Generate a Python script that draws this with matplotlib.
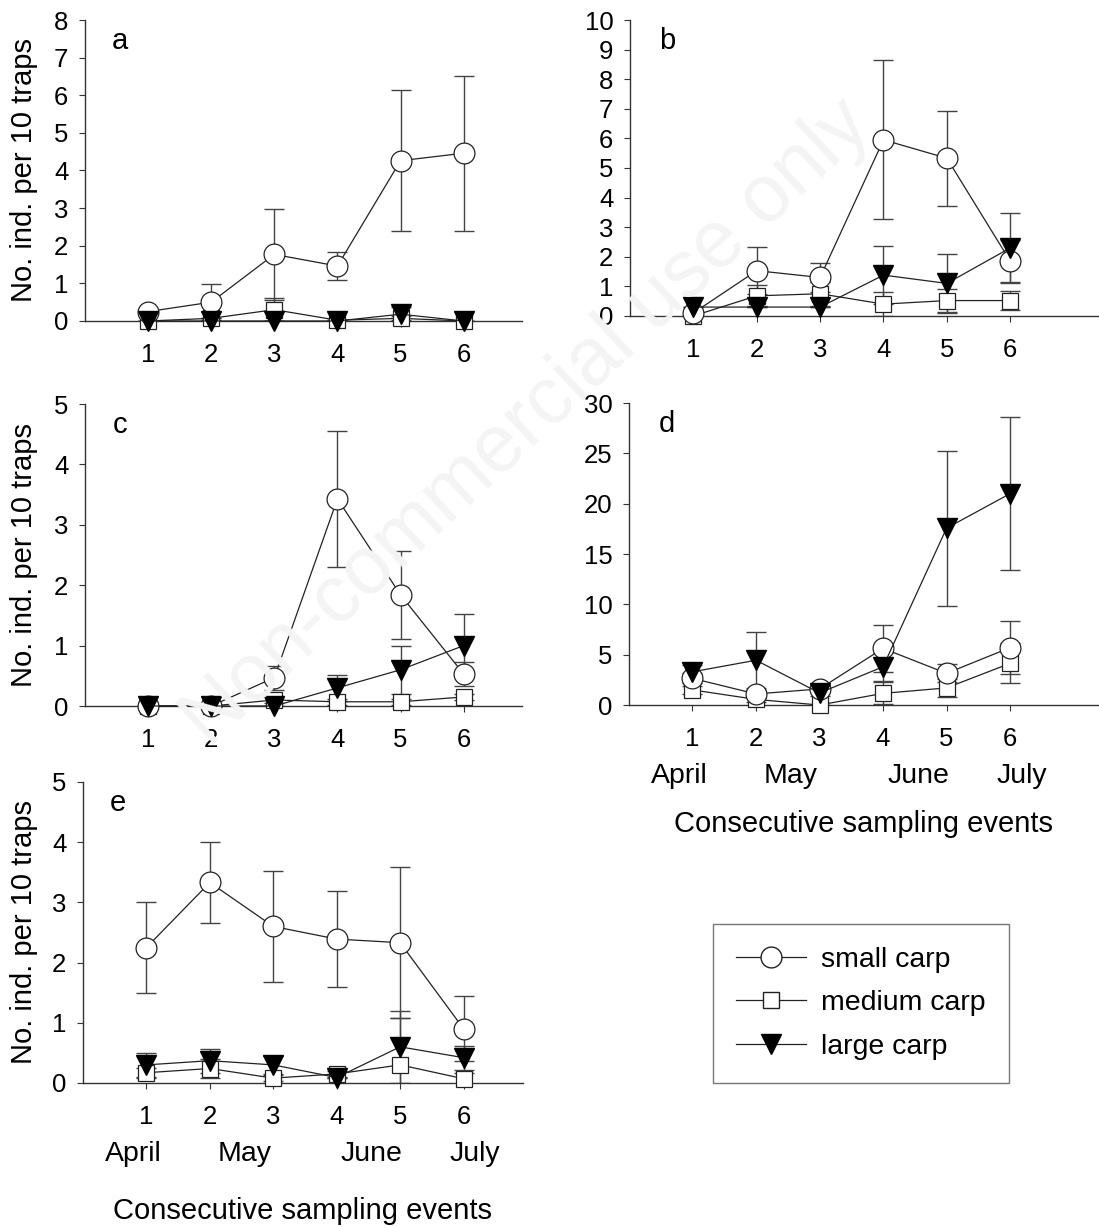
import matplotlib
matplotlib.use("Agg")
import matplotlib.pyplot as plt
from matplotlib.lines import Line2D

plt.rcParams['font.family'] = ['Liberation Sans', 'DejaVu Sans']

events = [1, 2, 3, 4, 5, 6]
months = ['April', 'May', 'June', 'July']
month_pos = [0.8, 2.55, 4.55, 6.18]

# panel a
a_small = [0.25, 0.5, 1.77, 1.46, 4.26, 4.46]
a_small_err = [0.0, 0.47, 1.2, 0.38, 1.88, 2.06]
a_medium = [0.0, 0.07, 0.3, 0.02, 0.07, 0.0]
a_medium_err = [0.0, 0.0, 0.3, 0.0, 0.05, 0.0]
a_large = [0.0, 0.0, 0.0, 0.0, 0.18, 0.0]
a_large_err = [0.0, 0.0, 0.0, 0.0, 0.18, 0.0]

# panel b
b_small = [0.1, 1.53, 1.3, 5.95, 5.33, 1.85]
b_small_err = [0.0, 0.8, 0.5, 2.69, 1.6, 0.7]
b_medium = [0.0, 0.68, 0.75, 0.4, 0.52, 0.52]
b_medium_err = [0.0, 0.35, 0.4, 0.4, 0.4, 0.33]
b_large = [0.3, 0.3, 0.3, 1.38, 1.1, 2.3]
b_large_err = [0.0, 0.0, 0.0, 0.97, 1.0, 1.19]

# panel c
c_small = [0.0, 0.0, 0.47, 3.43, 1.84, 0.53]
c_small_err = [0.0, 0.0, 0.2, 1.12, 0.73, 0.2]
c_medium = [0.0, 0.0, 0.1, 0.07, 0.07, 0.15]
c_medium_err = [0.0, 0.0, 0.05, 0.05, 0.05, 0.05]
c_large = [0.0, 0.0, 0.0, 0.3, 0.6, 1.0]
c_large_err = [0.0, 0.0, 0.0, 0.22, 0.4, 0.52]

# panel d
d_small = [2.65, 1.1, 1.6, 5.63, 3.15, 5.7]
d_small_err = [0.5, 0.4, 0.3, 2.3, 0.9, 2.6]
d_medium = [1.5, 0.56, 0.0, 1.16, 1.7, 4.14]
d_medium_err = [0.4, 0.3, 0.0, 1.1, 0.9, 2.0]
d_large = [3.3, 4.45, 1.2, 3.8, 17.57, 21.0]
d_large_err = [0.7, 2.8, 0.3, 1.4, 7.7, 7.6]

# panel e
e_small = [2.25, 3.33, 2.6, 2.39, 2.33, 0.9]
e_small_err = [0.75, 0.67, 0.92, 0.8, 1.25, 0.54]
e_medium = [0.17, 0.24, 0.08, 0.15, 0.3, 0.07]
e_medium_err = [0.08, 0.15, 0.05, 0.05, 0.78, 0.1]
e_large = [0.3, 0.37, 0.3, 0.09, 0.6, 0.42]
e_large_err = [0.2, 0.2, 0.15, 0.0, 0.6, 0.2]

panels = [
    ('a', [0.0773, 0.7384, 0.398, 0.2453], 8, 1, (0, 6.93), a_small, a_small_err, a_medium, a_medium_err, a_large, a_large_err),
    ('b', [0.5732, 0.7425, 0.4268, 0.2412], 10, 1, (0, 7.4), b_small, b_small_err, b_medium, b_medium_err, b_large, b_large_err),
    ('c', [0.0773, 0.4246, 0.398, 0.2461], 5, 1, (0, 6.93), c_small, c_small_err, c_medium, c_medium_err, c_large, c_large_err),
    ('d', [0.5723, 0.4254, 0.4277, 0.2461], 30, 5, (0, 7.4), d_small, d_small_err, d_medium, d_medium_err, d_large, d_large_err),
    ('e', [0.0755, 0.1174, 0.400, 0.2453], 5, 1, (0, 6.93), e_small, e_small_err, e_medium, e_medium_err, e_large, e_large_err),
]

fig = plt.figure(figsize=(10.99, 12.27), dpi=100)

# faint watermark
fig.text(0.48, 0.655, 'Non-commercial use only', rotation=43, fontsize=58,
         color='#f4f4f4', ha='center', va='center', zorder=0)

line_col = '#222222'
err_col = '#444444'

for name, pos, ymax, ystep, xl, sm, sme, md, mde, lg, lge in panels:
    ax = fig.add_axes(pos)
    ax.patch.set_alpha(0)
    for y, ye in [(sm, sme), (md, mde), (lg, lge)]:
        ax.errorbar(events, y, yerr=ye, fmt='none', ecolor=err_col,
                    elinewidth=1, capsize=7, capthick=1, zorder=2)
    ax.plot(events, md, color=line_col, lw=0.9, marker='s', ms=12,
            mfc='white', mec=line_col, mew=0.9, zorder=3, clip_on=False)
    ax.plot(events, sm, color=line_col, lw=0.9, marker='o', ms=15,
            mfc='white', mec=line_col, mew=0.9, zorder=4, clip_on=False)
    ax.plot(events, lg, color=line_col, lw=0.9, marker='v', ms=14,
            mfc='black', mec='black', zorder=5, clip_on=False)
    ax.set_xlim(*xl)
    ax.set_ylim(0, ymax)
    ax.set_xticks(events)
    ax.set_yticks(range(0, ymax + 1, ystep))
    for s in ['top', 'right']:
        ax.spines[s].set_visible(False)
    for s in ['left', 'bottom']:
        ax.spines[s].set_color('#333333')
        ax.spines[s].set_linewidth(1)
    ax.tick_params(axis='x', length=4, pad=12, labelsize=18.5, color='#333333')
    ax.tick_params(axis='y', length=4, pad=8, labelsize=18.5, color='#333333')
    ax.text(0.08, 0.93, name, transform=ax.transAxes, fontsize=21,
            ha='center', va='center')
    if name in ('a', 'c', 'e'):
        ax.set_ylabel('No. ind. per 10 traps', fontsize=21)
        fig_w = fig.get_figwidth() * fig.dpi
        ax.yaxis.set_label_coords((38 - pos[0] * fig_w) / (pos[2] * fig_w), 0.5)
    if name in ('d', 'e'):
        for m, p in zip(months, month_pos):
            ax.text(p, -0.235, m, transform=ax.get_xaxis_transform(),
                    fontsize=20.5, ha='center', va='center')
        xl_y = -0.395 if name == 'd' else -0.425
        ax.text(0.5, xl_y, 'Consecutive sampling events',
                transform=ax.transAxes, fontsize=21, ha='center', va='center')

handles = [
    Line2D([], [], color=line_col, lw=0.9, marker='o', ms=15, mfc='white', mec=line_col),
    Line2D([], [], color=line_col, lw=0.9, marker='s', ms=12, mfc='white', mec=line_col),
    Line2D([], [], color=line_col, lw=0.9, marker='v', ms=14, mfc='black', mec='black'),
]
leg = fig.legend(handles, ['small carp', 'medium carp', 'large carp'],
                 loc='upper left', bbox_to_anchor=(0.649, 0.247),
                 fontsize=20.5, frameon=True, fancybox=False, handlelength=2.45,
                 handletextpad=0.55, labelspacing=0.62, borderpad=0.8,
                 borderaxespad=0)
leg.get_frame().set_edgecolor('#555555')
leg.get_frame().set_linewidth(1)

fig.savefig('out.png', dpi=100)
